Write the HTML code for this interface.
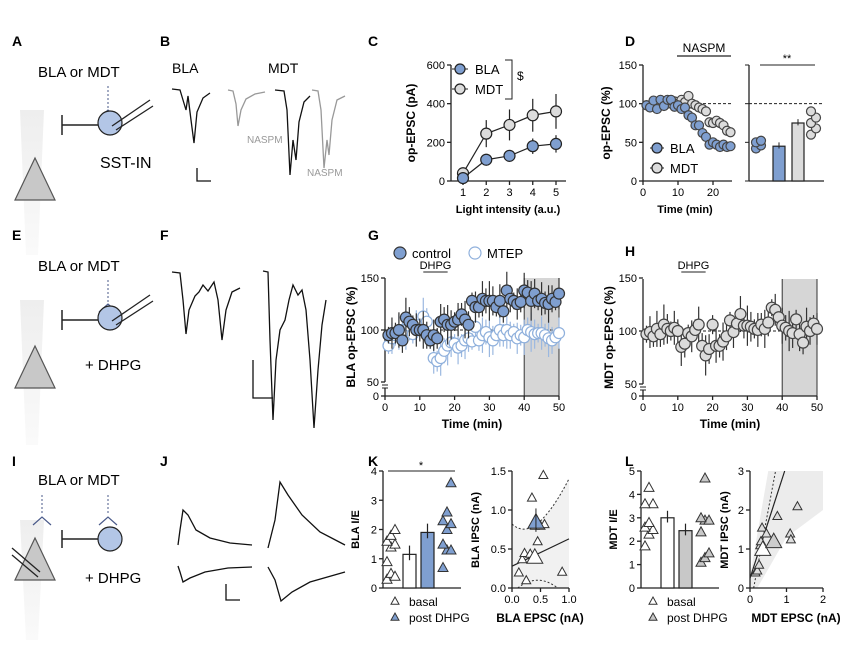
<!DOCTYPE html>
<html><head><meta charset="utf-8"><style>
html,body{margin:0;padding:0;background:#fff}
svg{display:block;font-family:"Liberation Sans",Arial,sans-serif}
</style></head><body>
<svg id="fig" width="859" height="647" viewBox="0 0 859 647">
<defs>
<linearGradient id="stem" x1="0" y1="0" x2="0" y2="1"><stop offset="0" stop-color="#eee"/><stop offset="1" stop-color="#fafafa"/></linearGradient>
</defs>
<g font-weight="bold" font-size="14" fill="#000">
<text x="12" y="46">A</text><text x="160" y="46">B</text><text x="368" y="46">C</text><text x="625" y="46">D</text>
<text x="12" y="240">E</text><text x="160" y="240">F</text><text x="368" y="240">G</text><text x="625" y="256">H</text>
<text x="12" y="466">I</text><text x="160" y="466">J</text><text x="368" y="466">K</text><text x="625" y="466">L</text>
</g>
<g>
<polygon points="20,110 44,110 38,255 26,255" fill="url(#stem)"/>
<polygon points="15,200 35,158 55,200" fill="#c8c8c8" stroke="#555" stroke-width="1.2"/>
<text x="38" y="77" font-size="15">BLA or MDT</text>
<line x1="108" y1="86" x2="108" y2="108" stroke="#4a5a8a" stroke-dasharray="2,2"/>
<polyline points="99,118 108,110 117,118" fill="none" stroke="#4a5a8a" stroke-width="1.2"/>
<line x1="62" y1="115" x2="62" y2="135" stroke="#222" stroke-width="1.5"/>
<line x1="62" y1="125" x2="98" y2="125" stroke="#222" stroke-width="1.5"/>
<circle cx="110" cy="123" r="12" fill="#b3c6e6" stroke="#222" stroke-width="1.2"/>
<line x1="112" y1="126" x2="150" y2="100" stroke="#222" stroke-width="1.3"/>
<line x1="116" y1="130" x2="153" y2="106" stroke="#222" stroke-width="1.3"/>
<text x="100" y="168" font-size="16">SST-IN</text>
</g>
<g>
<polygon points="20,300 44,300 38,445 26,445" fill="url(#stem)"/>
<polygon points="15,388 35,346 55,388" fill="#c8c8c8" stroke="#555" stroke-width="1.2"/>
<text x="38" y="271" font-size="15">BLA or MDT</text>
<line x1="108" y1="280" x2="108" y2="302" stroke="#4a5a8a" stroke-dasharray="2,2"/>
<polyline points="99,312 108,304 117,312" fill="none" stroke="#4a5a8a" stroke-width="1.2"/>
<line x1="62" y1="310" x2="62" y2="330" stroke="#222" stroke-width="1.5"/>
<line x1="62" y1="320" x2="98" y2="320" stroke="#222" stroke-width="1.5"/>
<circle cx="110" cy="318" r="12" fill="#b3c6e6" stroke="#222" stroke-width="1.2"/>
<line x1="112" y1="321" x2="150" y2="295" stroke="#222" stroke-width="1.3"/>
<line x1="116" y1="325" x2="153" y2="301" stroke="#222" stroke-width="1.3"/>
<text x="85" y="370" font-size="15">+ DHPG</text>
</g>
<g>
<polygon points="20,520 44,520 38,640 26,640" fill="url(#stem)"/>
<polygon points="15,580 35,538 55,580" fill="#c8c8c8" stroke="#555" stroke-width="1.2"/>
<text x="38" y="485" font-size="15">BLA or MDT</text>
<line x1="42" y1="495" x2="42" y2="515" stroke="#4a5a8a" stroke-dasharray="2,2"/>
<polyline points="33,525 42,517 51,525" fill="none" stroke="#4a5a8a" stroke-width="1.2"/>
<line x1="108" y1="495" x2="108" y2="515" stroke="#4a5a8a" stroke-dasharray="2,2"/>
<polyline points="99,525 108,517 117,525" fill="none" stroke="#4a5a8a" stroke-width="1.2"/>
<line x1="62" y1="530" x2="62" y2="548" stroke="#222" stroke-width="1.5"/>
<line x1="62" y1="539" x2="98" y2="539" stroke="#222" stroke-width="1.5"/>
<circle cx="110" cy="539" r="12" fill="#b3c6e6" stroke="#222" stroke-width="1.2"/>
<line x1="12" y1="548" x2="40" y2="572" stroke="#222" stroke-width="1.3"/>
<line x1="12" y1="555" x2="38" y2="577" stroke="#222" stroke-width="1.3"/>
<text x="85" y="583" font-size="15">+ DHPG</text>
</g>
<g fill="none" stroke-width="1.3">
<text x="172" y="73" font-size="14" fill="#000" stroke="none">BLA</text>
<text x="268" y="73" font-size="14" fill="#000" stroke="none">MDT</text>
<path d="M172,89 L180,90 L183,100 L186,110 L188,96 L191,120 L194,143 L197,112 L203,98 L210,93" stroke="#111"/>
<path d="M228,90 L233,91 L236,104 L238,126 L241,110 L246,99 L255,94 L265,92" stroke="#999"/>
<text x="247" y="143" font-size="10" fill="#999" stroke="none">NASPM</text>
<path d="M275,90 L284,91 L287,110 L290,175 L293,140 L296,160 L299,122 L304,102 L310,96" stroke="#111"/>
<path d="M312,90 L318,91 L321,110 L324,168 L327,140 L329,155 L332,120 L337,100 L345,96" stroke="#999"/>
<text x="307" y="176" font-size="10" fill="#999" stroke="none">NASPM</text>
<path d="M197,168 L197,181 L211,181" stroke="#111"/>
</g>
<g fill="none" stroke="#111" stroke-width="1.3">
<path d="M172,272 L180,273 L183,300 L186,334 L189,310 L195,296 L199,292 L203,285 L208,291 L214,282 L218,300 L222,340 L226,310 L232,292 L240,288"/>
<path d="M263,271 L268,272 L270,340 L273,420 L276,360 L280,330 L285,320 L289,300 L293,285 L298,295 L302,290 L306,310 L310,360 L314,428 L318,370 L322,325 L326,300"/>
<path d="M253,360 L253,398 L273,398"/>
</g>
<g fill="none" stroke="#111" stroke-width="1.3">
<path d="M178,545 L180,530 L183,510 L188,515 L196,530 L210,538 L230,543 L252,545"/>
<path d="M178,566 L180,572 L183,582 L190,578 L205,572 L228,568 L252,567"/>
<path d="M268,548 L275,520 L280,482 L288,495 L302,515 L320,532 L345,545"/>
<path d="M268,567 L275,580 L281,601 L292,592 L310,582 L345,572"/>
<path d="M226,584 L226,600 L240,600"/>
</g>
<g id="charts"></g>
</svg>
<script>
const cIntensity=[1,2,3,4,5];
const cBLA=[15,110,130,180,192];
const cBLAerr=[5,20,25,40,45];
const cMDT=[40,245,290,340,360];
const cMDTerr=[10,70,80,85,90];
const dTime=[1,2,3,4,5,6,7,8,9,10,11,12,13,14,15,16,17,18,19,20,21,22,23,24,25];
const dBLA=[98,95,104,93,105,97,105,105,96,98,93,95,85,82,72,72,62,57,47,50,47,44,47,44,45];
const dMDT=[98,97,98,100,98,102,100,104,103,100,105,102,110,100,98,95,93,90,76,75,78,75,72,65,63];
const dBLAdots=[42,46,50,52];
const dMDTdots=[60,68,75,82,90];
const dBars=[45,75];
const gTime=[1,2,3,4,5,6,7,8,9,10,11,12,13,14,15,16,17,18,19,20,21,22,23,24,25,26,27,28,29,30,31,32,33,34,35,36,37,38,39,40,41,42,43,44,45,46,47,48,49,50];
const gControl=[95,97,97,100,90,112,108,105,100,100,100,95,90,95,92,108,110,105,105,108,110,115,110,105,128,122,122,130,128,128,128,122,128,118,138,130,128,125,127,138,136,128,135,128,130,126,125,130,127,135];
const gMTEP=[85,92,95,98,100,100,104,96,103,105,113,108,90,73,70,73,80,85,88,87,83,85,90,92,89,103,90,95,98,93,90,95,100,95,100,95,98,92,95,93,100,98,96,97,97,95,92,90,93,97];
const hTime=[1,2,3,4,5,6,7,8,9,10,11,12,13,14,15,16,17,18,19,20,21,22,23,24,25,26,27,28,29,30,31,32,33,34,35,36,37,38,39,40,41,42,43,44,45,46,47,48,49,50];
const hMDT=[97,99,95,102,97,106,102,100,103,100,85,88,98,95,101,106,86,77,83,106,86,86,90,95,110,99,107,116,105,105,104,102,101,106,102,108,122,120,113,105,103,100,98,111,97,89,104,100,107,102];
const kBasal=[0.3,0.5,0.4,0.9,1.4,1.5,1.6,1.8,2.0];
const kPost=[0.7,1.3,1.3,1.5,2.0,2.2,2.3,2.6,3.6];
const kBars=[1.15,1.9];
const kEPSC=[0.12,0.18,0.22,0.25,0.32,0.35,0.40,0.45,0.50,0.55,0.57,0.88];
const kIPSC=[0.20,0.37,0.45,0.10,0.44,1.16,0.80,0.60,0.80,1.45,0.82,0.21];
const lBasal=[1.8,2.3,2.5,2.6,2.8,3.6,3.6,4.3];
const lPost=[1.1,1.3,1.5,2.4,2.9,2.9,3.0,4.7];
const lBars=[3.0,2.45];
const lEPSC=[0.15,0.2,0.25,0.28,0.3,0.33,0.45,0.75,1.1,1.12,1.3];
const lIPSC=[0.4,0.45,0.6,1.1,1.2,1.55,1.4,1.85,1.4,1.25,2.1];

const NS="http://www.w3.org/2000/svg";
const root=document.getElementById('charts');
function mk(tag,attrs,parent){const e=document.createElementNS(NS,tag);for(const k in attrs)e.setAttribute(k,attrs[k]);(parent||root).appendChild(e);return e;}
function txt(s,x,y,attrs,parent){const e=mk('text',Object.assign({x:x,y:y,'font-size':11},attrs||{}),parent);e.textContent=s;return e;}
function lin(a,b){return v=>a[1]+(v-a[0])*(b[1]-a[1])/(b[0]-a[0]);}
function group(name){const g=mk('g',{});return g;}
function yAxis(g,x,ys,ticks,labels){mk('line',{x1:x,y1:ys(ticks[ticks.length-1]),x2:x,y2:ys(ticks[0]),stroke:'#222','stroke-width':1.3},g);ticks.forEach((t,i)=>{mk('line',{x1:x-4,y1:ys(t),x2:x,y2:ys(t),stroke:'#222','stroke-width':1.3},g);txt(labels[i],x-6,ys(t)+4,{'text-anchor':'end'},g);});}
function xAxis(g,y,xs,ticks,labels,x0,x1){mk('line',{x1:x0,y1:y,x2:x1,y2:y,stroke:'#222','stroke-width':1.3},g);ticks.forEach((t,i)=>{mk('line',{x1:xs(t),y1:y,x2:xs(t),y2:y+4,stroke:'#222','stroke-width':1.3},g);txt(labels[i],xs(t),y+15,{'text-anchor':'middle'},g);});}
function dot(g,x,y,r,fill,stroke,name){const c=mk('circle',{cx:x,cy:y,r:r,fill:fill,stroke:stroke,'stroke-width':1.2},g);return c;}
function tri(g,x,y,s,fill,name){const p=mk('polygon',{points:`${x-s},${y+s*0.8} ${x},${y-s} ${x+s},${y+s*0.8}`,fill:fill,stroke:'#333','stroke-width':1},g);return p;}
const BLUE='#7f9fd0', GRAY='#dcdcdc';

(function(){const g=group('panel-c-chart');
const xs=lin([1,463],[5,556]), ys=lin([0,181],[600,65]);
yAxis(g,451,ys,[0,200,400,600],['0','200','400','600']);
xAxis(g,181,xs,cIntensity,cIntensity.map(String),451,566);
txt('op-EPSC (pA)',0,0,{transform:'translate(415,123) rotate(-90)','text-anchor':'middle','font-weight':'bold','font-size':12},g);
txt('Light intensity (a.u.)',508,213,{'text-anchor':'middle','font-weight':'bold','font-size':11},g);
[[cMDT,cMDTerr,GRAY,'mdt'],[cBLA,cBLAerr,BLUE,'bla']].forEach(([v,e,f,n])=>{
 mk('polyline',{points:cIntensity.map((t,i)=>xs(t)+','+ys(v[i])).join(' '),fill:'none',stroke:'#222','stroke-width':1.2},g);
 cIntensity.forEach((t,i)=>{mk('line',{x1:xs(t),x2:xs(t),y1:ys(v[i]-e[i]),y2:ys(v[i]+e[i]),stroke:'#222','stroke-width':1.2},g);dot(g,xs(t),ys(v[i]),5.5,f,'#222','c-point-'+n);});});
mk('line',{x1:452,x2:468,y1:69,y2:69,stroke:'#222'},g);dot(g,460,69,5,BLUE,'#222','legend-bla');txt('BLA',475,74,{'font-size':13},g);
mk('line',{x1:452,x2:468,y1:89,y2:89,stroke:'#222'},g);dot(g,460,89,5,GRAY,'#222','legend-mdt');txt('MDT',475,94,{'font-size':13},g);
mk('polyline',{points:'505,60 512,60 512,99 505,99',fill:'none',stroke:'#222'},g);txt('$',517,80,{'font-size':12},g);
})();

(function(){const g=group('panel-d-chart');
const xs=lin([0,643],[20,713]), ys=lin([0,181],[150,65]);
yAxis(g,643,ys,[0,50,100,150],['0','50','100','150']);
xAxis(g,181,xs,[0,10,20],['0','10','20'],643,732);
mk('line',{x1:643,x2:732,y1:ys(100),y2:ys(100),stroke:'#222','stroke-dasharray':'3,2'},g);
mk('line',{x1:677,x2:731,y1:56,y2:56,stroke:'#222','stroke-width':1.3},g);txt('NASPM',704,52,{'text-anchor':'middle','font-size':12},g);
txt('op-EPSC (%)',0,0,{transform:'translate(610,123) rotate(-90)','text-anchor':'middle','font-weight':'bold','font-size':12},g);
txt('Time (min)',685,213,{'text-anchor':'middle','font-weight':'bold','font-size':11},g);
dTime.forEach((t,i)=>{dot(g,xs(t),ys(dMDT[i]),4.5,GRAY,'#444','d-point-mdt');});
dTime.forEach((t,i)=>{dot(g,xs(t),ys(dBLA[i]),4.5,BLUE,'#444','d-point-bla');});
mk('line',{x1:650,x2:664,y1:148,y2:148,stroke:'#222'},g);dot(g,657,148,5,BLUE,'#222','legend-bla');txt('BLA',670,153,{'font-size':13},g);
mk('line',{x1:650,x2:664,y1:168,y2:168,stroke:'#222'},g);dot(g,657,168,5,GRAY,'#222','legend-mdt');txt('MDT',670,173,{'font-size':13},g);
mk('line',{x1:749,x2:749,y1:65,y2:181,stroke:'#222','stroke-width':1.3},g);
mk('line',{x1:749,x2:824,y1:181,y2:181,stroke:'#222','stroke-width':1.3},g);
[0,50,100,150].forEach(t=>mk('line',{x1:745,x2:749,y1:ys(t),y2:ys(t),stroke:'#222'},g));
mk('line',{x1:749,x2:824,y1:ys(100),y2:ys(100),stroke:'#222','stroke-dasharray':'3,2'},g);
mk('line',{x1:760,x2:815,y1:65,y2:65,stroke:'#222'},g);txt('**',787,62,{'text-anchor':'middle'},g);
dBLAdots.forEach((v,i)=>dot(g,756+(i%2)*5,ys(v),4.5,BLUE,'#444','d-inset-bla-dot'));
[[dBars[0],773,BLUE],[dBars[1],792,GRAY]].forEach(([v,x,f])=>{const r=mk('rect',{x:x,y:ys(v),width:12,height:181-ys(v),fill:f,stroke:'#222','stroke-width':1.2},g);mk('line',{x1:x+6,x2:x+6,y1:ys(v-3),y2:ys(v+5),stroke:'#222'},g);});
dMDTdots.forEach((v,i)=>dot(g,811+(i%2)*5,ys(v),4.5,GRAY,'#444','d-inset-mdt-dot'));
})();

function timeChart(name,x0,x1,yTop,y100,y50,y0,series,ylabel){
 const g=group(name);
 const xs=lin([0,x0],[50,x1]), ys=lin([50,y50],[100,y100]);
 mk('rect',{x:xs(40),y:yTop,width:xs(50)-xs(40),height:y0-yTop,fill:'#d6d6d6'},g);
 mk('line',{x1:xs(40),x2:xs(40),y1:yTop,y2:y0,stroke:'#333'},g);mk('line',{x1:xs(50),x2:xs(50),y1:yTop,y2:y0,stroke:'#333'},g);
 mk('line',{x1:x0,x2:x1,y1:y100,y2:y100,stroke:'#222','stroke-dasharray':'3,2'},g);
 mk('line',{x1:x0,x2:x0,y1:yTop,y2:y50,stroke:'#222','stroke-width':1.3},g);
 mk('line',{x1:x0,x2:x0,y1:y50+6,y2:y0,stroke:'#222','stroke-width':1.3},g);
 [[150,ys(150),'150'],[100,y100,'100'],[50,y50,'50'],[0,y0,'0']].forEach(([t,y,l])=>{mk('line',{x1:x0-4,x2:x0,y1:y,y2:y,stroke:'#222','stroke-width':1.3},g);txt(l,x0-6,y+4,{'text-anchor':'end'},g);});
 mk('line',{x1:x0-3,x2:x0+3,y1:y50+3,y2:y50+3,stroke:'#222'},g);mk('line',{x1:x0-3,x2:x0+3,y1:y50+6,y2:y50+6,stroke:'#222'},g);
 xAxis(g,y0,xs,[0,10,20,30,40,50],['0','10','20','30','40','50'],x0,x1);
 mk('line',{x1:xs(11),x2:xs(18),y1:ys(150)-6,y2:ys(150)-6,stroke:'#222'},g);txt('DHPG',xs(14.5),ys(150)-9,{'text-anchor':'middle','font-size':11},g);
 txt('Time (min)',xs(25),y0+32,{'text-anchor':'middle','font-weight':'bold','font-size':12},g);
 txt(ylabel,0,0,{transform:`translate(${x0-30},${(yTop+y0)/2}) rotate(-90)`,'text-anchor':'middle','font-weight':'bold','font-size':12},g);
 series.forEach(([t,v,fill,stroke,ecol,n])=>{
  t.forEach((tt,i)=>{const e=8+((i*7)%12);mk('line',{x1:xs(tt),x2:xs(tt),y1:ys(v[i]-e),y2:ys(v[i]+e),stroke:ecol,'stroke-width':1.2},g);});
  t.forEach((tt,i)=>dot(g,xs(tt),ys(v[i]),5.5,fill,stroke,n));});
 return g;}
const gG=timeChart('panel-g-chart',385,559,278,330,382,396,[[gTime,gMTEP,'#fff','#8fb0dc','#9bb8e0','g-point-mtep'],[gTime,gControl,BLUE,'#333','#333','g-point-control']],'BLA op-EPSC (%)');
dot(gG,400,253,6,BLUE,'#333','legend-control');txt('control',412,258,{'font-size':13},gG);
dot(gG,475,253,6,'#fff','#8fb0dc','legend-mtep');txt('MTEP',487,258,{'font-size':13},gG);
timeChart('panel-h-chart',643,817,279,331,384,396,[[hTime,hMDT,GRAY,'#444','#333','h-point-mdt']],'MDT op-EPSC (%)');

function barChart(name,x0,yTop,y0,max,ticks,basal,post,bars,postFill,ylabel,star){
 const g=group(name); const ys=lin([0,y0],[max,yTop]);
 yAxis(g,x0,ys,ticks,ticks.map(String));
 mk('line',{x1:x0,x2:x0+78,y1:y0,y2:y0,stroke:'#222','stroke-width':1.3},g);
 basal.forEach((v,i)=>tri(g,x0+8+((i%3)-1)*4,ys(v),5,'#fff','basal-triangle'));
 [[bars[0],x0+20,'#fff'],[bars[1],x0+38,postFill]].forEach(([v,x,f])=>{const r=mk('rect',{x:x,y:ys(v),width:13,height:y0-ys(v),fill:f,stroke:'#222','stroke-width':1.2},g);mk('line',{x1:x+6.5,x2:x+6.5,y1:ys(v-0.2),y2:ys(v+0.3),stroke:'#222','stroke-width':1.2},g);});
 post.forEach((v,i)=>tri(g,x0+64+((i%3)-1)*4,ys(v),5,postFill,'post-triangle'));
 if(star){mk('line',{x1:x0+5,x2:x0+72,y1:yTop,y2:yTop,stroke:'#222'},g);txt('*',x0+38,yTop-2,{'text-anchor':'middle'},g);}
 txt(ylabel,0,0,{transform:`translate(${x0-24},${(yTop+y0)/2}) rotate(-90)`,'text-anchor':'middle','font-weight':'bold','font-size':11},g);
 tri(g,x0+12,y0+13,4,'#fff','legend-basal');txt('basal',x0+26,y0+18,{'font-size':12},g);
 tri(g,x0+12,y0+29,4,postFill,'legend-post');txt('post DHPG',x0+26,y0+34,{'font-size':12},g);}
barChart('panel-k-bars',383,471,588,4,[0,1,2,3,4],kBasal,kPost,kBars,BLUE,'BLA I/E',true);
barChart('panel-l-bars',641,471,588,5,[0,1,2,3,4,5],lBasal,lPost,lBars,'#c8c8c8','MDT I/E',false);

(function(){const g=group('panel-k-scatter');
const xs=lin([0,512],[1,569]), ys=lin([0,588],[1.5,471]);
mk('path',{d:`M${xs(0)},${ys(0.82)} Q${xs(0.4)},${ys(0.55)} ${xs(1)},${ys(1.4)} L${xs(1)},${ys(0)} L${xs(0)},${ys(0)}Z`,fill:'#f1f1f1'},g);
mk('path',{d:`M${xs(0)},${ys(0.82)} Q${xs(0.4)},${ys(0.55)} ${xs(1)},${ys(1.4)}`,fill:'none',stroke:'#333','stroke-dasharray':'2,2'},g);
mk('path',{d:`M${xs(0.1)},${ys(0.0)} Q${xs(0.45)},${ys(0.2)} ${xs(0.8)},${ys(0)}`,fill:'none',stroke:'#333','stroke-dasharray':'2,2'},g);
mk('line',{x1:xs(0),y1:ys(0.28),x2:xs(1),y2:ys(0.63),stroke:'#222','stroke-width':1.2},g);
yAxis(g,512,ys,[0,0.5,1,1.5],['0.0','0.5','1.0','1.5']);
xAxis(g,588,xs,[0,0.5,1],['0.0','0.5','1.0'],512,569);
kEPSC.forEach((v,i)=>tri(g,xs(v),ys(kIPSC[i]),4.5,'#fff','k-scatter-point'));
tri(g,xs(0.4),ys(0.4),8,'#fff','k-mean-basal');tri(g,xs(0.42),ys(0.85),8,BLUE,'k-mean-post');
mk('line',{x1:xs(0.42),x2:xs(0.42),y1:ys(0.72),y2:ys(1.02),stroke:'#222'},g);
txt('BLA IPSC  (nA)',0,0,{transform:'translate(479,530) rotate(-90)','text-anchor':'middle','font-weight':'bold','font-size':11},g);
txt('BLA EPSC (nA)',540,622,{'text-anchor':'middle','font-weight':'bold','font-size':12},g);})();
(function(){const g=group('panel-l-scatter');
const xs=lin([0,750],[2,823]), ys=lin([0,588],[3,471]);
mk('polygon',{points:`${xs(0)},${ys(0.3)} ${xs(0.5)},${ys(3)} ${xs(2)},${ys(3)} ${xs(2)},${ys(2)} ${xs(1)},${ys(1.3)} ${xs(0.2)},${ys(0)} ${xs(0)},${ys(0)}`,fill:'#ececec'},g);
mk('line',{x1:xs(0.1),y1:ys(0),x2:xs(0.7),y2:ys(3),stroke:'#333','stroke-dasharray':'2,2'},g);
mk('line',{x1:xs(0),y1:ys(0.25),x2:xs(0.95),y2:ys(3),stroke:'#222','stroke-width':1.2},g);
yAxis(g,750,ys,[0,1,2,3],['0','1','2','3']);
xAxis(g,588,xs,[0,1,2],['0','1','2'],750,823);
lEPSC.forEach((v,i)=>tri(g,xs(v),ys(lIPSC[i]),4.5,'#ddd','l-scatter-point'));
tri(g,xs(0.35),ys(1.0),8,'#fff','l-mean-basal');tri(g,xs(0.65),ys(1.2),8,'#ccc','l-mean-post');
txt('MDT IPSC (nA)',0,0,{transform:'translate(728,530) rotate(-90)','text-anchor':'middle','font-weight':'bold','font-size':11},g);
txt('MDT EPSC (nA)',796,622,{'text-anchor':'middle','font-weight':'bold','font-size':12},g);})();
</script>
</body></html>
